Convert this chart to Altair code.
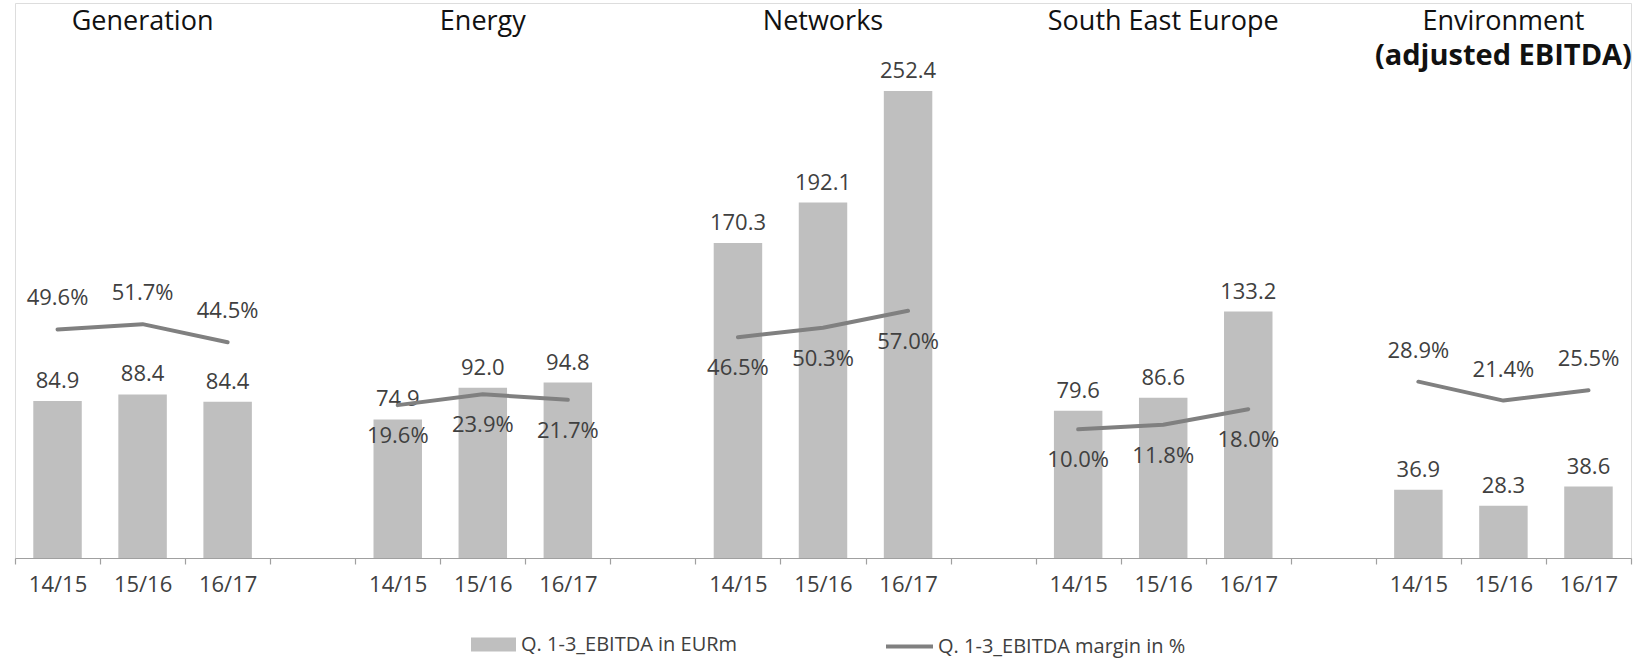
import altair as alt
import pandas as pd

segments = ["Generation", "Energy", "Networks", "South East Europe", "Environment"]
subtitles = ["", "", "", "", "(adjusted EBITDA)"]
years = ["14/15", "15/16", "16/17"]

ebitda_generation = [84.9, 88.4, 84.4]
ebitda_energy = [74.9, 92.0, 94.8]
ebitda_networks = [170.3, 192.1, 252.4]
ebitda_see = [79.6, 86.6, 133.2]
ebitda_environment = [36.9, 28.3, 38.6]

margin_generation = [49.6, 51.7, 44.5]
margin_energy = [19.6, 23.9, 21.7]
margin_networks = [46.5, 50.3, 57.0]
margin_see = [10.0, 11.8, 18.0]
margin_environment = [28.9, 21.4, 25.5]

bar_series = "Q. 1-3_EBITDA in EURm"
line_series = "Q. 1-3_EBITDA margin in %"

labels_above = ["Generation", "Environment"]

ebitda = [ebitda_generation, ebitda_energy, ebitda_networks, ebitda_see, ebitda_environment]
margin = [margin_generation, margin_energy, margin_networks, margin_see, margin_environment]

rows = []
for si, seg in enumerate(segments):
    for yi, yr in enumerate(years):
        rows.append({"segment": seg, "seg_i": si, "year": yr, "year_i": yi,
                     "ebitda": ebitda[si][yi], "margin": margin[si][yi],
                     "bar_series": bar_series, "line_series": line_series})
df = pd.DataFrame(rows)

titles_df = pd.DataFrame({"segment": segments, "subtitle": subtitles,
                          "seg_i": list(range(len(segments)))})

FONT = "Open Sans"
GROUP = len(years) + 1
NSLOTS = len(segments) * GROUP - 1
label_arr = "[" + ",".join("'%s'" % y for y in years) + ",'']"
centers = [s + 0.5 for s in range(NSLOTS) if s % GROUP < len(years)]

xscale = alt.Scale(domain=[0, NSLOTS], nice=False, zero=False)
bar_y = alt.Scale(domain=[0, 300], nice=False, zero=False)
pct_y = alt.Scale(domain=[-41, 179], nice=False, zero=False)

base = alt.Chart(df).transform_calculate(
    slot="datum.seg_i * %d + datum.year_i" % GROUP,
    xc="datum.slot + 0.5",
    xl="datum.slot + 0.215",
    xr="datum.slot + 0.785",
    mlabel="format(datum.margin, '.1f') + '%'",
    elabel="format(datum.ebitda, '.1f')",
)

tick_axis = alt.Axis(
    orient="bottom", values=list(range(NSLOTS + 1)), labels=False,
    tickSize=6, tickColor="#a0a0a0", domainColor="#a0a0a0",
    tickWidth=1.2, domainWidth=1.2, grid=False, title=None,
)
label_axis = alt.Axis(
    orient="bottom", values=centers, ticks=False, domain=False,
    labelExpr="%s[floor(datum.value) %% %d]" % (label_arr, GROUP),
    labelFont=FONT, labelFontSize=22, labelColor="#404040", labelPadding=16,
    labelFlush=False, labelOverlap=False, labelBound=False, grid=False, title=None,
)

bars = base.mark_bar(color="#bfbfbf").encode(
    x=alt.X("xl:Q", scale=xscale, axis=tick_axis),
    x2="xr:Q",
    y=alt.Y("ebitda:Q", scale=bar_y, axis=None),
    y2=alt.datum(0),
    fill=alt.Fill("bar_series:N",
                  scale=alt.Scale(domain=[bar_series], range=["#bfbfbf"]),
                  legend=alt.Legend(orient="none", legendX=456, legendY=619, title=None,
                                    symbolType="M-1,-0.31H1V0.31H-1Z", symbolSize=2025,
                                    symbolStrokeWidth=0, labelOffset=5, padding=0,
                                    labelLimit=500,
                                    labelFont=FONT, labelFontSize=20, labelColor="#404040")),
)

bar_text = base.mark_text(font=FONT, fontSize=22, color="#404040", baseline="middle", dy=-20).encode(
    x=alt.X("xc:Q", scale=xscale, axis=label_axis),
    y=alt.Y("ebitda:Q", scale=bar_y, axis=None),
    text="elabel:N",
)

lines = base.mark_line(strokeWidth=4, strokeCap="round", strokeJoin="round").encode(
    x=alt.X("xc:Q", scale=xscale, axis=None),
    y=alt.Y("margin:Q", scale=pct_y, axis=None),
    detail="segment:N",
    stroke=alt.Stroke("line_series:N",
                      scale=alt.Scale(domain=[line_series], range=["#808080"]),
                      legend=alt.Legend(orient="none", legendX=869, legendY=618, title=None,
                                        symbolType="stroke", symbolSize=2209,
                                        symbolStrokeWidth=4, labelOffset=3, padding=0,
                                        labelLimit=500,
                                        labelFont=FONT, labelFontSize=20, labelColor="#404040")),
)

pct_above = base.transform_filter(
    alt.FieldOneOfPredicate(field="segment", oneOf=labels_above)
).mark_text(font=FONT, fontSize=22, color="#404040", baseline="middle", dy=-31).encode(
    x=alt.X("xc:Q", scale=xscale, axis=None),
    y=alt.Y("margin:Q", scale=pct_y, axis=None),
    text="mlabel:N",
)

pct_below = base.transform_filter(
    ~alt.FieldOneOfPredicate(field="segment", oneOf=labels_above)
).mark_text(font=FONT, fontSize=22, color="#404040", baseline="middle", dy=31).encode(
    x=alt.X("xc:Q", scale=xscale, axis=None),
    y=alt.Y("margin:Q", scale=pct_y, axis=None),
    text="mlabel:N",
)

tbase = alt.Chart(titles_df).transform_calculate(
    xc="datum.seg_i * %d + 1.5" % GROUP
)
titles = tbase.mark_text(font=FONT, fontSize=27, color="#111111", baseline="middle").encode(
    x=alt.X("xc:Q", scale=xscale, axis=None),
    y=alt.value(19),
    text="segment:N",
)
subtitles_t = tbase.mark_text(font=FONT, fontSize=29, fontWeight="bold", color="#111111",
                              baseline="middle").encode(
    x=alt.X("xc:Q", scale=xscale, axis=None),
    y=alt.value(53),
    text="subtitle:N",
)

chart = alt.layer(bars, bar_text, lines, pct_above, pct_below, titles, subtitles_t).resolve_scale(
    y="independent"
).resolve_axis(x="independent").properties(
    width=1616, height=555,
    padding={"left": 15, "top": 3, "right": 3, "bottom": 102},
    autosize=alt.AutoSizeParams(type="none"),
).configure_view(stroke=None).configure(background="white")

chart.save("out.html", embed_options={"renderer": "svg", "actions": False})
